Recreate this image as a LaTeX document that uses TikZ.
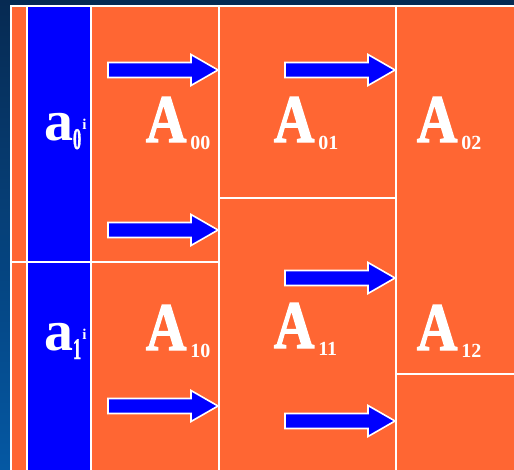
\documentclass[tikz,border=0pt]{standalone}
\usepackage{fontspec}
\setmainfont{Liberation Serif}
\newfontfamily\capfont[FakeStretch=0.82,FakeBold=2]{Liberation Serif}
\newfontfamily\thinfont[FakeStretch=0.55,FakeBold=1]{Liberation Serif}
\definecolor{navy}{HTML}{062A52}
\definecolor{deepblue}{HTML}{0558A3}
\definecolor{orange}{HTML}{FF6633}
\definecolor{pureblue}{HTML}{0000FF}
\tikzset{blk/.style={draw=white,line width=2pt,fill=orange,anchor=north west,inner sep=0pt,outer sep=0pt},col/.style={blk,fill=pureblue},barrow/.style={draw=white,line width=1.6pt,fill=pureblue},lbl/.style={text=white,anchor=base west,inner sep=0pt,outer sep=0pt,font=\bfseries},pics/blockarrow/.style={code={\path[barrow] (-1,0) -- (-28,-15.5) -- (-28,-7.5) -- (-111,-7.5) -- (-111,7.5) -- (-28,7.5) -- (-28,15.5) -- cycle;}}}
\newcommand{\blockname}[1]{{\capfont\fontsize{68}{68}\selectfont A}\hspace{4pt}\raisebox{-7pt}{\fontsize{20}{20}\selectfont #1}}
\newcommand{\vecname}[1]{{\fontsize{58}{58}\selectfont a}\raisebox{-9pt}{\thinfont\fontsize{30}{30}\selectfont #1}\hspace{1pt}\raisebox{11pt}{\fontsize{15}{15}\selectfont i}}

\begin{document}
\begin{tikzpicture}[x=1pt,y=-1pt]
\clip (0,0) rectangle (514,469);
\shade[top color=navy,bottom color=deepblue] (0,0) rectangle (514,469);
% left strip and the blue column a
\node[blk,minimum width=16pt,minimum height=256pt] (s0) at (11,6) {};
\node[blk,minimum width=16pt,minimum height=220pt] (s1) at (11,262) {};
\node[col,minimum width=64pt,minimum height=256pt] (c0) at (27,6) {};
\node[col,minimum width=64pt,minimum height=220pt] (c1) at (27,262) {};
\node[lbl] (a0) at (44,140) {\vecname{0}};
\node[lbl] (a1) at (44,350) {\vecname{1}};
% blocks of A
\node[blk,minimum width=128pt,minimum height=256pt] (b00) at (91,6) {};
\node[blk,minimum width=128pt,minimum height=220pt] (b10) at (91,262) {};
\node[blk,minimum width=177pt,minimum height=192pt] (b01) at (219,6) {};
\node[blk,minimum width=177pt,minimum height=280pt] (b11) at (219,198) {};
\node[blk,minimum width=130pt,minimum height=368pt] (b02) at (396,6) {};
\node[blk,minimum width=130pt,minimum height=110pt] (b12) at (396,374) {};
\node[lbl] (l00) at (146,142) {\blockname{00}};
\node[lbl] (l01) at (274,142) {\blockname{01}};
\node[lbl] (l02) at (417,142) {\blockname{02}};
\node[lbl] (l10) at (146,350) {\blockname{10}};
\node[lbl] (l11) at (274,348) {\blockname{11}};
\node[lbl] (l12) at (417,350) {\blockname{12}};
% arrows
\pic (r00) at (219,70) {blockarrow};
\pic (r01) at (219,230) {blockarrow};
\pic (r10) at (219,406) {blockarrow};
\pic (r02) at (396,70) {blockarrow};
\pic (r11) at (396,278) {blockarrow};
\pic (r12) at (396,421) {blockarrow};
\end{tikzpicture}
\end{document}
